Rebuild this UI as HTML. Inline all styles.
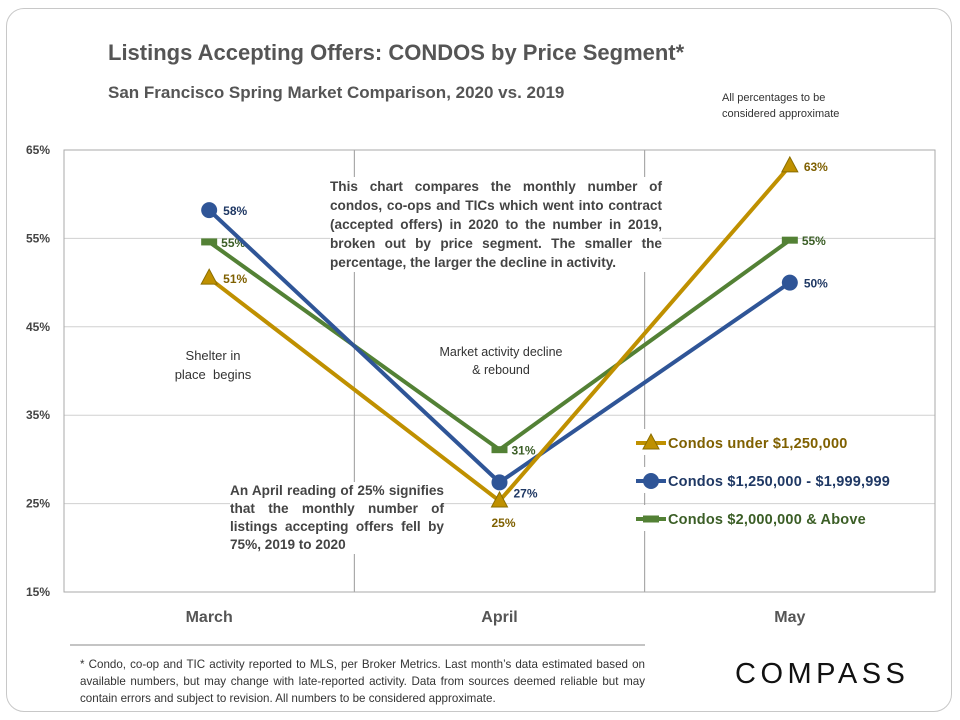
<!DOCTYPE html>
<html><head><meta charset="utf-8"><style>
body{margin:0;background:#fff;font-family:"Liberation Sans",sans-serif;}
#card{position:absolute;left:6px;top:8px;width:944px;height:702px;border:1px solid #c8c8c8;border-radius:18px;}
.t{position:absolute;white-space:nowrap;}
</style></head><body>
<div id="card"></div>
<div class="t" style="left:108px;top:40px;font-size:22px;font-weight:bold;color:#555;">Listings Accepting Offers: CONDOS by Price Segment*</div>
<div class="t" style="left:108px;top:83px;font-size:17px;font-weight:bold;color:#555;">San Francisco Spring Market Comparison,  2020 vs. 2019</div>
<div class="t" style="left:722px;top:90px;font-size:11px;color:#333;line-height:16px;">All percentages to be<br>considered approximate</div>
<svg id="chart" width="960" height="720" style="position:absolute;left:0;top:0"></svg>
<div class="t" style="left:330px;top:177px;width:332px;white-space:normal;text-align:justify;font-size:13.6px;font-weight:bold;color:#444;line-height:19px;background:#fff;">This chart compares the monthly number of condos, co-ops and TICs which went into contract (accepted offers) in 2020 to the number in 2019, broken out by price segment. The smaller the percentage, the larger the decline in activity.</div>
<div class="t" style="left:168px;top:346px;width:90px;white-space:normal;text-align:center;font-size:13px;color:#333;line-height:19px;">Shelter in place&nbsp; begins</div>
<div class="t" style="left:436px;top:343px;width:130px;white-space:normal;text-align:center;font-size:12.5px;color:#333;line-height:18px;background:#fff;">Market activity decline &amp; rebound</div>
<div class="t" style="left:230px;top:482px;width:214px;white-space:normal;text-align:justify;font-size:13.6px;font-weight:bold;color:#444;line-height:18px;background:#fff;">An April reading of 25% signifies that the monthly number of listings accepting offers fell by 75%, 2019 to 2020</div>
<div class="t" style="left:80px;top:656px;width:565px;white-space:normal;text-align:justify;font-size:11.6px;color:#333;line-height:17px;">* Condo, co-op and TIC activity reported to MLS, per Broker Metrics. Last month’s data estimated based on available numbers, but may change with late-reported activity. Data from sources deemed reliable but may contain errors and subject to revision. All numbers to be considered approximate.</div>
<div class="t" style="left:735px;top:658px;font-size:29px;letter-spacing:4.5px;color:#111;">COMPASS</div>
<script>
const categories=["March","April","May"];
const under=[50.5,25.3,63.2];
const mid=[58.2,27.4,50];
const top2m=[54.6,31.1,54.8];
const underLabels=["51%","25%","63%"];
const midLabels=["58%","27%","50%"];
const topLabels=["55%","31%","55%"];
const yTicks=[15,25,35,45,55,65];
const seriesNames=["Condos under $1,250,000","Condos  $1,250,000 - $1,999,999","Condos $2,000,000 & Above"];
const NS="http://www.w3.org/2000/svg";
const svg=document.getElementById('chart');
const L=64,R=935,T=150,B=592;
const y=v=>B-(v-15)/50*(B-T);
const bw=(R-L)/categories.length;
const x=i=>L+bw*(i+0.5);
function mk(tag,a,parent){const e=document.createElementNS(NS,tag);for(const k in a)e.setAttribute(k,a[k]);(parent||svg).appendChild(e);return e;}
yTicks.forEach(t=>{
 const g=mk('line',{x1:L,x2:R,y1:y(t),y2:y(t),stroke:'#d0d0d0','stroke-width':1});
 
 
 const tx=mk('text',{x:L-14,y:y(t)+4,'text-anchor':'end','font-size':12,'font-weight':'bold',fill:'#444'});
 tx.textContent=t+'%';
 
 
});
for(let i=1;i<categories.length;i++){
 const v=mk('line',{x1:L+bw*i,x2:L+bw*i,y1:T,y2:B,stroke:'#999','stroke-width':1});
 
 
}
const fr=mk('rect',{x:L,y:T,width:R-L,height:B-T,fill:'none',stroke:'#aaa','stroke-width':1});


categories.forEach((c,i)=>{
 const tx=mk('text',{x:x(i),y:622,'text-anchor':'middle','font-size':16,'font-weight':'bold',fill:'#555'});
 tx.textContent=c;
 
 
});
const fl=mk('line',{x1:70,x2:645,y1:645,y2:645,stroke:'#888','stroke-width':1});


function marker(kind,cx,cy,col,g){
 if(kind==='tri')return mk('polygon',{points:`${cx},${cy-9} ${cx-8},${cy+6} ${cx+8},${cy+6}`,fill:col,stroke:'#8a6d00','stroke-width':1},g);
 if(kind==='circ')return mk('circle',{cx,cy,r:8,fill:col},g);
 return mk('rect',{x:cx-8,y:cy-3.5,width:16,height:7,fill:col},g);
}
const series=[
 {vals:top2m,labels:topLabels,col:'#538135',lab:'#3b5e26',kind:'rect',name:'series-2m-above',ly:519,off:[[12,5],[12,5],[12,5]]},
 {vals:mid,labels:midLabels,col:'#2f5597',lab:'#1f3864',kind:'circ',name:'series-1250k-1999k',ly:481,off:[[14,5],[14,15],[14,5]]},
 {vals:under,labels:underLabels,col:'#bf9000',lab:'#7f6000',kind:'tri',name:'series-under-1250k',ly:443,off:[[14,5],[-8,26],[14,5]]}
];
series.forEach((s,si)=>{
 const g=mk('g',{});
 
 
 const p=mk('polyline',{points:s.vals.map((v,i)=>x(i)+','+y(v)).join(' '),fill:'none',stroke:s.col,'stroke-width':4,'stroke-linejoin':'round'},g);
 
 
 s.vals.forEach((v,i)=>{
  const m=marker(s.kind,x(i),y(v),s.col,g);
  
  
  const t=mk('text',{x:x(i)+s.off[i][0],y:y(v)+s.off[i][1],'font-size':12,'font-weight':'bold',fill:s.lab},g);
  t.textContent=s.labels[i];
  
  
 });
 const lg=mk('g',{});
 
 
 mk('rect',{x:632,y:s.ly-14,width:285,height:26,fill:'#fff'},lg);
 mk('line',{x1:636,x2:666,y1:s.ly,y2:s.ly,stroke:s.col,'stroke-width':4},lg);
 marker(s.kind,651,s.ly,s.col,lg);
 const lt=mk('text',{x:668,y:s.ly+5,'font-size':14.5,'font-weight':'bold',fill:s.lab,'letter-spacing':0.2},lg);
 lt.textContent=seriesNames[2-si];
});
</script>
</body></html>
